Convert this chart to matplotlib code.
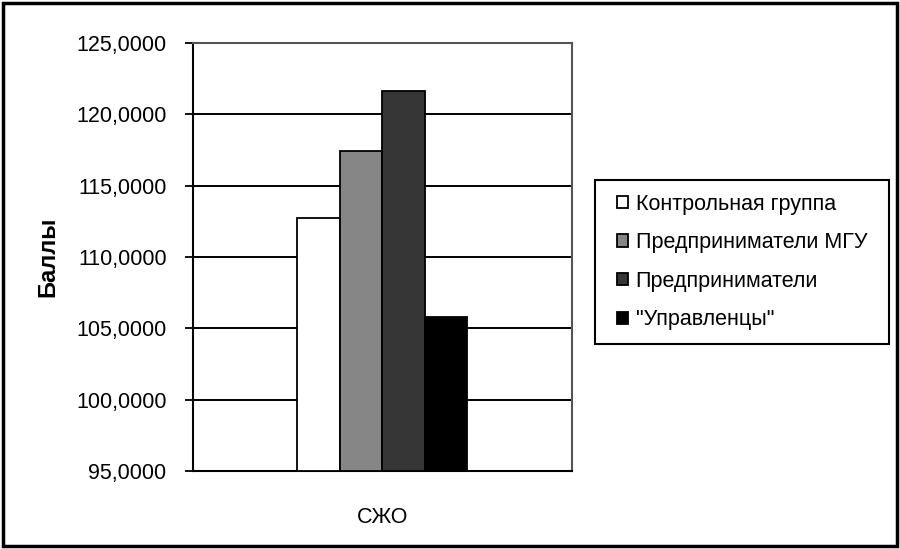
import matplotlib.pyplot as plt
import matplotlib.patches as patches
from matplotlib.ticker import FuncFormatter

plt.rcParams['font.family'] = ['Liberation Sans', 'DejaVu Sans']

groups = ['Контрольная группа', 'Предприниматели МГУ', 'Предприниматели', '"Управленцы"']
values = [112.7, 117.4, 121.6, 105.8]
colors = ['#ffffff', '#868686', '#363636', '#000000']
category = 'СЖО'
yticks = [95, 100, 105, 110, 115, 120, 125]

fig = plt.figure(figsize=(9, 5.49), dpi=100)
ax = fig.add_axes([0.2144, 0.1421, 0.4211, 0.7796])

bw = 0.1121
for i, (g, v, c) in enumerate(zip(groups, values, colors)):
    x = (i - 1.5) * bw
    ax.bar(x, v - 95, bottom=95, width=bw, color=c, edgecolor='black',
           linewidth=1.3, label=g, zorder=3)

ax.set_xlim(-0.5, 0.5)
ax.set_ylim(95, 125)
ax.set_yticks(yticks)
ax.yaxis.set_major_formatter(FuncFormatter(lambda v, p: f'{v:.4f}'.replace('.', ',')))
ax.grid(axis='y', color='black', linewidth=1.4, zorder=0)
ax.set_xticks([0])
ax.set_xticklabels([category])
ax.tick_params(axis='x', length=0, pad=26, labelsize=15.5)
ax.tick_params(axis='y', direction='out', length=6, width=1.3, pad=13, labelsize=15.5)

for s in ['left', 'bottom']:
    ax.spines[s].set_color('black')
    ax.spines[s].set_linewidth(1.5)
for s in ['top', 'right']:
    ax.spines[s].set_color('#555555')
    ax.spines[s].set_linewidth(1.5)

ax.set_ylabel('Баллы', fontsize=17, fontweight='bold', labelpad=12)

# legend without frame, frame drawn around it with wider side padding
leg = fig.legend(loc='upper left', bbox_to_anchor=(0.686, 0.6475), fontsize=15.5,
                 frameon=False, handlelength=0.5, handleheight=0.5,
                 handletextpad=0.35, labelspacing=0.82, borderpad=0.0,
                 borderaxespad=0)
fig.canvas.draw()
bb = leg.get_window_extent().transformed(fig.transFigure.inverted())
padx, pady = 22 / 900, 13.5 / 549
fig.patches.append(patches.Rectangle((bb.x0 - padx, bb.y0 - pady),
                                     bb.width + 2 * padx, bb.height + 2 * pady,
                                     transform=fig.transFigure, fill=False,
                                     edgecolor='black', linewidth=1.5))

fig.patches.append(patches.Rectangle((0.003, 0.005), 0.994, 0.99, transform=fig.transFigure,
                                     fill=False, edgecolor='black', linewidth=2.5))

fig.savefig('out.png', dpi=100)
